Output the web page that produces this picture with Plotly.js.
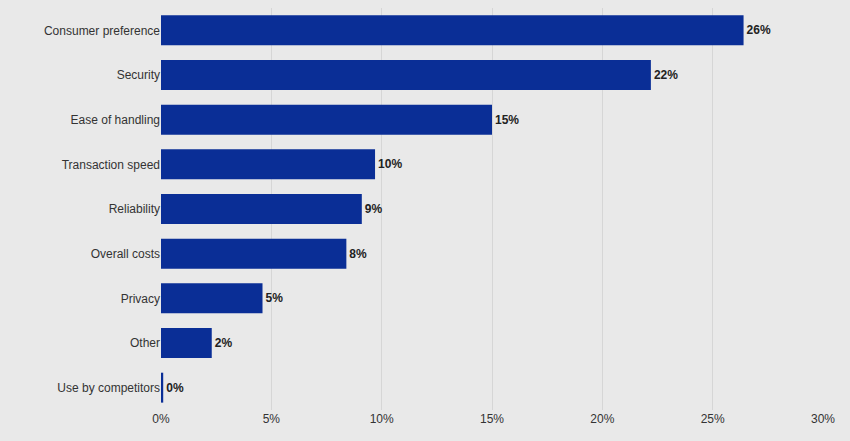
<!DOCTYPE html>
<html>
<head>
<script src="https://cdn.plot.ly/plotly-3.0.1.min.js"></script>
<style>body{margin:0;background:#e9e9e9}</style>
</head>
<body>
<div id="container" style="width:850px;height:441px"></div>
<script>
var categories = ['Consumer preference', 'Security', 'Ease of handling', 'Transaction speed',
  'Reliability', 'Overall costs', 'Privacy', 'Other', 'Use by competitors'];
var values = [26.4, 22.2, 15.0, 9.7, 9.1, 8.4, 4.6, 2.3, 0.1];
var labels = ['26%', '22%', '15%', '10%', '9%', '8%', '5%', '2%', '0%'];
var tickVals = [0, 5, 10, 15, 20, 25, 30];
var tickText = ['0%', '5%', '10%', '15%', '20%', '25%', '30%'];

var trace = {
  type: 'bar',
  orientation: 'h',
  x: values,
  y: categories,
  text: labels,
  textposition: 'outside',
  cliponaxis: false,
  textfont: {family: 'Liberation Sans, Arial', size: 12, color: '#222', weight: 'bold'},
  marker: {color: '#0a2e96'},
  width: 0.67,
  hoverinfo: 'none'
};

var layout = {
  width: 850, height: 441,
  margin: {l: 161, r: 27, t: 8, b: 31},
  paper_bgcolor: '#e9e9e9',
  plot_bgcolor: '#e9e9e9',
  showlegend: false,
  font: {family: 'Liberation Sans, Arial', size: 12, color: '#333'},
  xaxis: {
    range: [0, 30], tickvals: tickVals, ticktext: tickText,
    showgrid: true, gridcolor: '#d6d6d6', zeroline: false,
    ticks: '', fixedrange: true
  },
  yaxis: {
    autorange: 'reversed', ticks: '', ticklen: 8, tickcolor: 'rgba(0,0,0,0)',
    showgrid: false, fixedrange: true
  }
};

Plotly.newPlot('container', [trace], layout, {displayModeBar: false, staticPlot: true});
</script>
</body>
</html>
